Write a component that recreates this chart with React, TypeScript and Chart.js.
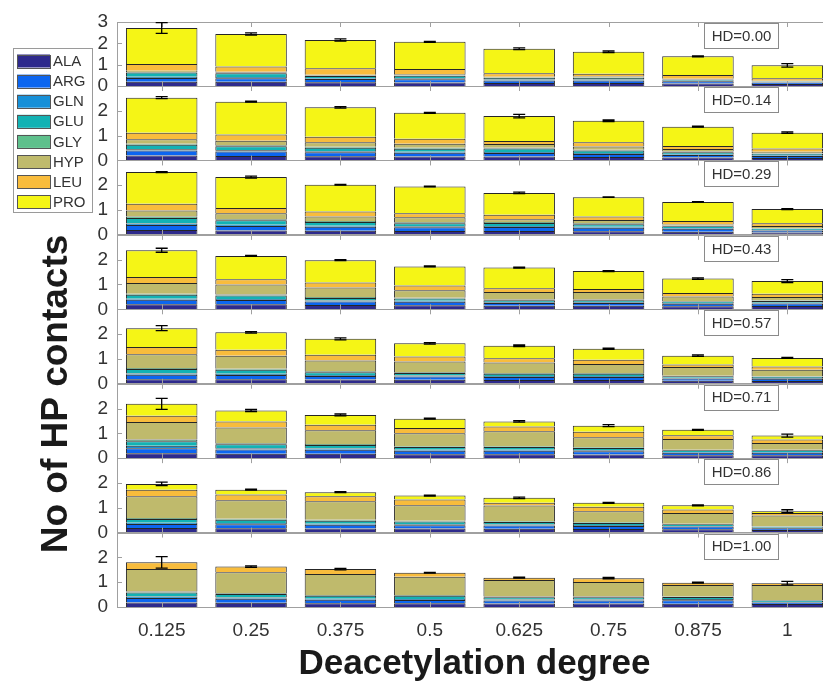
import React, { useEffect, useRef } from 'react';
import { Chart, registerables } from 'chart.js';

Chart.register(...registerables);

const DEGREES = ['0.125', '0.25', '0.375', '0.5', '0.625', '0.75', '0.875', '1'];
const HD_LABELS = ['HD=0.00', 'HD=0.14', 'HD=0.29', 'HD=0.43', 'HD=0.57', 'HD=0.71', 'HD=0.86', 'HD=1.00'];
const RESIDUES = ['ALA', 'ARG', 'GLN', 'GLU', 'GLY', 'HYP', 'LEU', 'PRO'];
const COLORS = ['#2e2a8c', '#0c66f0', '#1690d8', '#12b2b4', '#5ec08c', '#bfba6c', '#f8bc3c', '#f5f516'];
const Y_TICKS = [0, 1, 2, 3];

// rows = HD panels (0.00 ... 1.00), columns = deacetylation degree
const ALA = [
  [0.2, 0.2, 0.18, 0.17, 0.14, 0.14, 0.12, 0.1],
  [0.2, 0.18, 0.17, 0.16, 0.16, 0.14, 0.12, 0.1],
  [0.2, 0.18, 0.17, 0.16, 0.16, 0.15, 0.13, 0.1],
  [0.2, 0.2, 0.17, 0.16, 0.14, 0.14, 0.12, 0.13],
  [0.18, 0.18, 0.17, 0.16, 0.15, 0.15, 0.12, 0.11],
  [0.2, 0.18, 0.18, 0.16, 0.16, 0.15, 0.12, 0.12],
  [0.18, 0.17, 0.16, 0.16, 0.15, 0.14, 0.13, 0.1],
  [0.18, 0.17, 0.15, 0.15, 0.14, 0.14, 0.13, 0.12],
];
const ARG = [
  [0.18, 0.17, 0.15, 0.15, 0.12, 0.12, 0.1, 0.06],
  [0.2, 0.18, 0.16, 0.15, 0.14, 0.12, 0.1, 0.08],
  [0.2, 0.18, 0.16, 0.15, 0.16, 0.14, 0.12, 0.08],
  [0.18, 0.17, 0.14, 0.14, 0.11, 0.11, 0.1, 0.1],
  [0.18, 0.17, 0.14, 0.13, 0.12, 0.12, 0.09, 0.09],
  [0.2, 0.17, 0.16, 0.14, 0.14, 0.13, 0.1, 0.1],
  [0.17, 0.17, 0.16, 0.14, 0.14, 0.13, 0.11, 0.07],
  [0.18, 0.16, 0.14, 0.13, 0.12, 0.12, 0.14, 0.06],
];
const GLN = [
  [0.05, 0.05, 0.04, 0.04, 0.04, 0.04, 0.03, 0.02],
  [0.05, 0.05, 0.04, 0.04, 0.04, 0.04, 0.03, 0.03],
  [0.06, 0.05, 0.04, 0.04, 0.04, 0.04, 0.03, 0.02],
  [0.05, 0.05, 0.04, 0.04, 0.03, 0.03, 0.03, 0.03],
  [0.05, 0.05, 0.04, 0.04, 0.04, 0.04, 0.03, 0.03],
  [0.1, 0.05, 0.05, 0.04, 0.04, 0.04, 0.03, 0.03],
  [0.05, 0.05, 0.04, 0.04, 0.04, 0.04, 0.03, 0.02],
  [0.06, 0.05, 0.04, 0.04, 0.04, 0.04, 0.05, 0.02],
];
const GLU = [
  [0.2, 0.18, 0.1, 0.12, 0.08, 0.08, 0.05, 0.03],
  [0.18, 0.16, 0.14, 0.12, 0.14, 0.1, 0.08, 0.06],
  [0.22, 0.18, 0.15, 0.12, 0.12, 0.1, 0.07, 0.05],
  [0.16, 0.14, 0.11, 0.1, 0.08, 0.08, 0.06, 0.07],
  [0.18, 0.16, 0.11, 0.1, 0.09, 0.09, 0.06, 0.05],
  [0.18, 0.16, 0.14, 0.11, 0.11, 0.09, 0.07, 0.07],
  [0.15, 0.13, 0.12, 0.11, 0.1, 0.08, 0.07, 0.04],
  [0.16, 0.14, 0.12, 0.13, 0.09, 0.09, 0.08, 0.06],
];
const GLY = [
  [0.03, 0.03, 0.02, 0.03, 0.02, 0.02, 0.02, 0.01],
  [0.04, 0.04, 0.04, 0.04, 0.03, 0.03, 0.03, 0.02],
  [0.06, 0.04, 0.04, 0.04, 0.04, 0.04, 0.03, 0.02],
  [0.04, 0.04, 0.04, 0.03, 0.03, 0.03, 0.02, 0.02],
  [0.04, 0.04, 0.04, 0.03, 0.03, 0.03, 0.02, 0.02],
  [0.07, 0.04, 0.04, 0.03, 0.03, 0.03, 0.02, 0.02],
  [0.04, 0.04, 0.04, 0.03, 0.03, 0.03, 0.02, 0.02],
  [0.04, 0.03, 0.03, 0.03, 0.03, 0.03, 0.02, 0.02],
];
const HYP = [
  [0.06, 0.04, 0.04, 0.04, 0.04, 0.05, 0.02, 0.03],
  [0.18, 0.18, 0.18, 0.16, 0.15, 0.13, 0.1, 0.06],
  [0.24, 0.24, 0.18, 0.2, 0.11, 0.13, 0.04, 0.09],
  [0.43, 0.4, 0.38, 0.3, 0.31, 0.31, 0.19, 0.15],
  [0.56, 0.53, 0.44, 0.44, 0.43, 0.36, 0.35, 0.26],
  [0.71, 0.64, 0.55, 0.52, 0.6, 0.4, 0.43, 0.27],
  [0.87, 0.74, 0.74, 0.62, 0.63, 0.44, 0.43, 0.44],
  [0.91, 0.85, 0.85, 0.74, 0.67, 0.59, 0.47, 0.61],
];
const LEU = [
  [0.31, 0.25, 0.3, 0.25, 0.16, 0.12, 0.18, 0.11],
  [0.27, 0.26, 0.23, 0.2, 0.12, 0.17, 0.12, 0.13],
  [0.27, 0.21, 0.2, 0.16, 0.18, 0.14, 0.14, 0.11],
  [0.24, 0.21, 0.2, 0.19, 0.15, 0.12, 0.14, 0.13],
  [0.29, 0.24, 0.23, 0.2, 0.17, 0.18, 0.1, 0.13],
  [0.25, 0.24, 0.23, 0.22, 0.2, 0.22, 0.15, 0.14],
  [0.27, 0.23, 0.2, 0.23, 0.11, 0.18, 0.14, 0.1],
  [0.27, 0.23, 0.2, 0.16, 0.09, 0.15, 0.09, 0.07],
];
const PRO = [
  [1.69, 1.52, 1.33, 1.27, 1.15, 1.04, 0.87, 0.61],
  [1.41, 1.32, 1.18, 1.05, 1.01, 0.87, 0.78, 0.64],
  [1.28, 1.25, 1.08, 1.08, 0.88, 0.78, 0.77, 0.57],
  [1.08, 0.94, 0.9, 0.77, 0.83, 0.72, 0.58, 0.51],
  [0.76, 0.7, 0.64, 0.53, 0.5, 0.44, 0.36, 0.35],
  [0.48, 0.44, 0.39, 0.37, 0.2, 0.25, 0.22, 0.16],
  [0.23, 0.2, 0.17, 0.16, 0.2, 0.16, 0.17, 0.07],
  [0, 0, 0, 0, 0, 0, 0, 0],
];
const ERR = [
  [0.25, 0.05, 0.05, 0.02, 0.04, 0.04, 0.02, 0.08],
  [0.04, 0.02, 0.03, 0.02, 0.07, 0.03, 0.02, 0.03],
  [0.02, 0.04, 0.01, 0.01, 0.03, 0.01, 0.01, 0.02],
  [0.08, 0.02, 0.02, 0.02, 0.02, 0.02, 0.03, 0.06],
  [0.1, 0.03, 0.04, 0.03, 0.03, 0.02, 0.03, 0.02],
  [0.22, 0.04, 0.04, 0.02, 0.03, 0.04, 0.02, 0.06],
  [0.07, 0.02, 0.02, 0.02, 0.03, 0.02, 0.02, 0.06],
  [0.23, 0.03, 0.03, 0.01, 0.02, 0.03, 0.02, 0.07],
];

const FONT = "'Liberation Sans', Arial, Helvetica, sans-serif";
const TICK_COLOR = '#333333';
const AXIS_COLOR = '#a0a0a0';

export default function App() {
  const ref = useRef<HTMLCanvasElement>(null);

  useEffect(() => {
    if (!ref.current) return;
    const series = [ALA, ARG, GLN, GLU, GLY, HYP, LEU, PRO];
    const nPanels = HD_LABELS.length;

    const datasets: any[] = [];
    for (let p = 0; p < nPanels; p++) {
      for (let r = 0; r < RESIDUES.length; r++) {
        datasets.push({
          label: RESIDUES[r],
          data: series[r][p],
          yAxisID: 'y' + p,
          stack: 'bars',
          backgroundColor: COLORS[r],
          borderColor: '#262626',
          borderWidth: 1,
          barPercentage: 0.8,
          categoryPercentage: 1,
        });
      }
    }

    const scales: any = {
      x: {
        type: 'category',
        labels: DEGREES,
        offset: true,
        position: 'bottom',
        grid: { display: false, drawTicks: false },
        border: { display: false },
        ticks: { font: { family: FONT, size: 19 }, color: TICK_COLOR, padding: 12, autoSkip: false, maxRotation: 0 },
        title: {
          display: true,
          text: 'Deacetylation degree',
          font: { family: FONT, size: 35, weight: 'bold', lineHeight: 1.1 },
          color: '#1a1a1a',
          padding: { top: 0, bottom: 0 },
        },
        afterFit: (s: any) => { s.height = 77; },
      },
    };
    for (let p = nPanels - 1; p >= 0; p--) {
      scales['y' + p] = {
        type: 'linear',
        position: 'left',
        stack: 'panels',
        stackWeight: p === 0 ? 64 : 74.4,
        stacked: true,
        min: 0,
        max: 3,
        grid: { display: false, drawTicks: false },
        border: { display: false },
        ticks: {
          stepSize: 1,
          autoSkip: false,
          padding: 9,
          font: { family: FONT, size: 19 },
          color: TICK_COLOR,
          callback: (v: any) => (p > 0 && v === 3 ? '' : String(v)),
        },
        afterFit: (s: any) => { s.width = 117; },
      };
    }

    const decor = {
      id: 'decor',
      afterDraw(chart: any) {
        const ctx = chart.ctx;
        const area = chart.chartArea;
        const xs = chart.scales.x;
        ctx.save();
        for (let p = 0; p < nPanels; p++) {
          const ys = chart.scales['y' + p];
          const top = ys.top;
          const bottom = ys.bottom;
          ctx.strokeStyle = AXIS_COLOR;
          ctx.lineWidth = 1;
          ctx.strokeRect(Math.round(area.left) + 0.5, Math.round(top) + 0.5, area.right - area.left, Math.round(bottom - top));
          // ticks
          ctx.beginPath();
          for (let i = 0; i < DEGREES.length; i++) {
            const x = Math.round(xs.getPixelForValue(i)) + 0.5;
            ctx.moveTo(x, bottom);
            ctx.lineTo(x, bottom - 5);
            ctx.moveTo(x, top);
            ctx.lineTo(x, top + 5);
          }
          for (const v of Y_TICKS) {
            const y = Math.round(ys.getPixelForValue(v)) + 0.5;
            ctx.moveTo(area.left, y);
            ctx.lineTo(area.left + 5, y);
          }
          ctx.stroke();
          // error bars
          ctx.strokeStyle = '#000';
          ctx.lineWidth = 1.3;
          for (let i = 0; i < DEGREES.length; i++) {
            let total = 0;
            for (let r = 0; r < series.length; r++) total += series[r][p][i];
            const e = ERR[p][i];
            const x = xs.getPixelForValue(i);
            const y1 = ys.getPixelForValue(total + e);
            const y2 = ys.getPixelForValue(total - e);
            ctx.beginPath();
            ctx.moveTo(x, y1); ctx.lineTo(x, y2);
            ctx.moveTo(x - 6, y1); ctx.lineTo(x + 6, y1);
            ctx.moveTo(x - 6, y2); ctx.lineTo(x + 6, y2);
            ctx.stroke();
          }
          // HD box
          const bx = 704, bw = 74, bh = 25;
          ctx.fillStyle = '#fff';
          ctx.fillRect(bx, top + 1, bw, bh);
          ctx.strokeStyle = '#8a8a8a';
          ctx.lineWidth = 1;
          ctx.strokeRect(bx + 0.5, Math.round(top) + 1.5, bw, bh);
          ctx.fillStyle = '#333';
          ctx.font = `15px ${FONT}`;
          ctx.textAlign = 'center';
          ctx.textBaseline = 'middle';
          ctx.fillText(HD_LABELS[p], bx + bw / 2 + 0.5, top + 1 + bh / 2 + 1);
        }
        // legend
        const lx = 13, ly = 48, lw = 79, lh = 164;
        ctx.fillStyle = '#fff';
        ctx.fillRect(lx, ly, lw, lh);
        ctx.strokeStyle = '#9a9a9a';
        ctx.lineWidth = 1;
        ctx.strokeRect(lx + 0.5, ly + 0.5, lw, lh);
        ctx.font = `15px ${FONT}`;
        ctx.textAlign = 'left';
        ctx.textBaseline = 'middle';
        for (let r = 0; r < RESIDUES.length; r++) {
          const cy = 61 + r * 20.1;
          ctx.fillStyle = COLORS[r];
          ctx.fillRect(17, cy - 6.5, 33, 13);
          ctx.strokeStyle = '#555';
          ctx.strokeRect(17.5, Math.round(cy - 6.5) + 0.5, 33, 13);
          ctx.fillStyle = '#333';
          ctx.fillText(RESIDUES[r], 53, cy + 1);
        }
        // y title
        ctx.save();
        ctx.translate(57, 394);
        ctx.rotate(-Math.PI / 2);
        ctx.font = `bold 37px ${FONT}`;
        ctx.fillStyle = '#1a1a1a';
        ctx.textAlign = 'center';
        ctx.textBaseline = 'middle';
        ctx.fillText('No of HP contacts', 0, 0);
        ctx.restore();
        ctx.restore();
      },
    };

    const chart = new Chart(ref.current, {
      type: 'bar',
      data: { labels: DEGREES, datasets },
      options: {
        animation: false,
        responsive: false,
        devicePixelRatio: 1,
        layout: { padding: { top: 22, left: 0, right: 0, bottom: 0 } },
        plugins: { legend: { display: false }, tooltip: { enabled: false }, title: { display: false } },
        scales,
      } as any,
      plugins: [decor],
    });
    return () => chart.destroy();
  }, []);

  return (
    <div style={{ position: 'fixed', left: 0, top: 0, width: 823, height: 684, overflow: 'hidden', background: '#fff' }}>
      <canvas ref={ref} width={832} height={684} style={{ display: 'block', width: 832, height: 684 }} />
    </div>
  );
}
